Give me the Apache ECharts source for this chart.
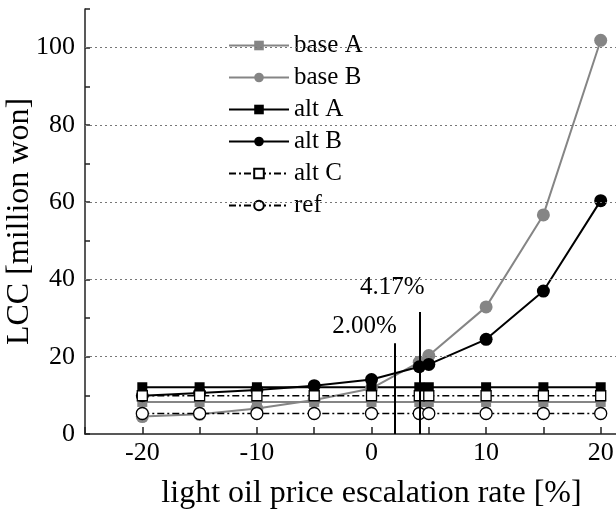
<!DOCTYPE html>
<html>
<head>
<meta charset="utf-8">
<script src="https://cdn.jsdelivr.net/npm/echarts@6/dist/echarts.min.js"></script>
<style>html,body{margin:0;padding:0;background:#fff;}#c{width:616px;height:513px;}</style>
</head>
<body>
<div id="c"></div>
<script>
const xValues = [-20, -15, -10, -5, 0, 4.17, 5, 10, 15, 20];
const baseA = [8.3, 8.3, 8.3, 8.3, 8.3, 8.3, 8.3, 8.3, 8.3, 8.3];
const baseB = [4.5, 5.1, 6.6, 8.8, 11.8, 18.6, 20.3, 32.9, 56.7, 101.9];
const altA  = [12.1, 12.1, 12.1, 12.1, 12.1, 12.1, 12.1, 12.1, 12.1, 12.1];
const altB  = [9.9, 10.6, 11.4, 12.5, 14.1, 17.4, 18.0, 24.5, 37.0, 60.4];
const altC  = [9.9, 9.9, 9.9, 9.9, 9.9, 9.9, 9.9, 9.9, 9.9, 9.9];
const refS  = [5.3, 5.3, 5.3, 5.3, 5.3, 5.3, 5.3, 5.3, 5.3, 5.3];
const seriesNames = ['base A', 'base B', 'alt A', 'alt B', 'alt C', 'ref'];
const gridValues = [20, 40, 60, 80, 100];
const annoX = [2.00, 4.17];
const annoTop = [23.5, 31.6];
const annoText = ['2.00%', '4.17%'];

const FONT = 'Liberation Serif';
const grey = '#858585';
const dashDot = [7, 3, 2, 3];
const pairs = arr => xValues.map((x, i) => [x, arr[i]]);

const chart = echarts.init(document.getElementById('c'), null, {renderer: 'canvas'});
const option = {
  animation: false,
  backgroundColor: '#fff',
  grid: {left: 85, right: -42, top: 9, bottom: 79, containLabel: false, outerBoundsMode: 'none'},
  legend: {
    orient: 'vertical', left: 224, top: 31,
    itemWidth: 60, itemHeight: 12, itemGap: 7,
    backgroundColor: '#fff', padding: [2, 6, 2, 4],
    textStyle: {fontFamily: FONT, fontSize: 25, color: '#000'},
    data: seriesNames
  },
  xAxis: {
    type: 'value', min: -25, max: 25, interval: 5,
    name: 'light oil price escalation rate [%]', nameLocation: 'middle', nameGap: 44,
    nameMoveOverlap: false,
    nameTextStyle: {fontFamily: FONT, fontSize: 32, color: '#000'},
    axisLine: {onZero: false, lineStyle: {color: '#222', width: 1.5}},
    axisTick: {inside: true, length: 7, lineStyle: {color: '#222', width: 1.5}},
    axisLabel: {margin: 6, fontFamily: FONT, fontSize: 26, color: '#000',
      formatter: v => (Math.abs(v % 10) < 1e-9 ? String(v) : '')},
    splitLine: {show: false}
  },
  yAxis: {
    type: 'value', min: 0, max: 110, interval: 10,
    name: 'LCC [million won]', nameLocation: 'middle', nameGap: 49,
    nameMoveOverlap: false,
    nameTextStyle: {fontFamily: FONT, fontSize: 32, color: '#000'},
    axisLine: {show: true, onZero: false, lineStyle: {color: '#222', width: 1.5}},
    axisTick: {show: true, inside: true, length: 5, lineStyle: {color: '#222', width: 1.5}},
    axisLabel: {margin: 10, fontFamily: FONT, fontSize: 26, color: '#000',
      formatter: v => (v % 20 === 0 && v <= 100 ? String(v) : '')},
    splitLine: {show: false}
  },
  series: [
    {
      name: '_grid', type: 'line', data: [], z: 1, silent: true,
      markLine: {silent: true, symbol: 'none', label: {show: false},
        lineStyle: {type: [2, 3], color: '#777', width: 1.2},
        data: gridValues.map(v => ({yAxis: v}))}
    },
    {name: 'base A', type: 'line', data: pairs(baseA), symbol: 'rect', symbolSize: 10,
      itemStyle: {color: grey}, lineStyle: {color: grey, width: 2}},
    {name: 'base B', type: 'line', data: pairs(baseB), symbol: 'circle', symbolSize: 13,
      itemStyle: {color: grey}, lineStyle: {color: grey, width: 2}},
    {name: 'alt A', type: 'line', data: pairs(altA), symbol: 'rect', symbolSize: 10,
      itemStyle: {color: '#000'}, lineStyle: {color: '#000', width: 2}},
    {name: 'alt B', type: 'line', data: pairs(altB), symbol: 'circle', symbolSize: 13,
      itemStyle: {color: '#000'}, lineStyle: {color: '#000', width: 2}},
    {name: 'alt C', type: 'line', data: pairs(altC), symbol: 'rect', symbolSize: 10,
      itemStyle: {color: '#fff', borderColor: '#000', borderWidth: 1.3},
      lineStyle: {color: '#000', width: 1.3, type: dashDot}},
    {name: 'ref', type: 'line', data: pairs(refS), symbol: 'circle', symbolSize: 12,
      itemStyle: {color: '#fff', borderColor: '#000', borderWidth: 1.3},
      lineStyle: {color: '#000', width: 1.3, type: dashDot}},
    {
      name: '_anno', type: 'line', data: [], z: 5, silent: true,
      markLine: {silent: true, symbol: 'none', label: {show: false},
        lineStyle: {type: 'solid', color: '#000', width: 2},
        data: annoX.map((x, i) => [{coord: [x, 0]}, {coord: [x, annoTop[i]]}])},
      markPoint: {silent: true, symbol: 'circle', symbolSize: 0,
        data: annoX.map((x, i) => ({
          coord: [x, annoTop[i]], value: annoText[i],
          label: {show: true, position: 'top', distance: i === 0 ? 4 : 12,
            offset: [i === 0 ? -30 : -27, 0],
            formatter: annoText[i], fontFamily: FONT, fontSize: 25, color: '#000'}
        }))}
    }
  ]
};
chart.setOption(option);
</script>
</body>
</html>
